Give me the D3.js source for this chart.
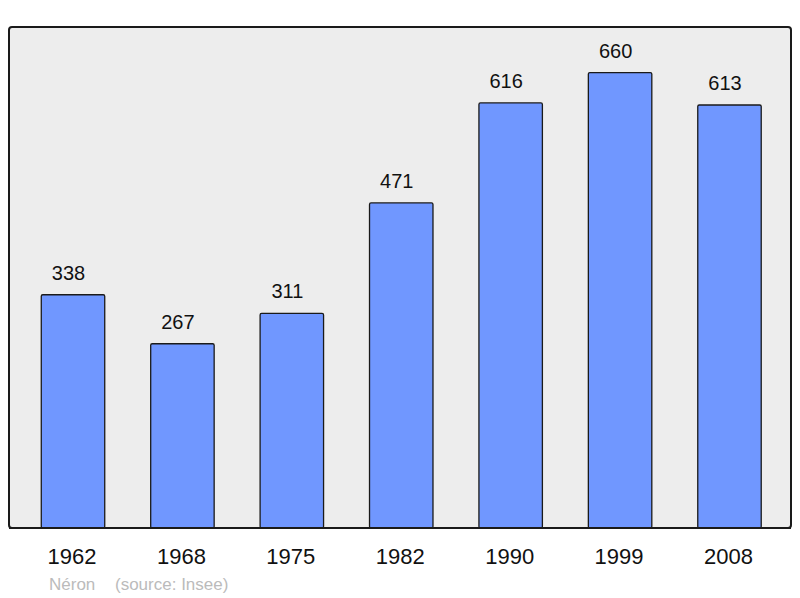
<!DOCTYPE html>
<html>
<head>
<meta charset="utf-8">
<script src="https://cdn.jsdelivr.net/npm/d3@7"></script>
<style>
  body { margin: 0; background: #fff; }
  text { font-family: "Liberation Sans", Arial, sans-serif; }
</style>
</head>
<body>
<svg id="chart" width="800" height="598"></svg>
<script>
// population data
const years = ["1962", "1968", "1975", "1982", "1990", "1999", "2008"];
const population = [338, 267, 311, 471, 616, 660, 613];
const commune = "Néron";
const source = "(source: Insee)";

const BOX = { left: 9, top: 27, right: 791, bottom: 528 };

const svg = d3.select("#chart");

// background frame
svg.append("rect")
  .attr("x", BOX.left)
  .attr("y", BOX.top)
  .attr("width", BOX.right - BOX.left)
  .attr("height", BOX.bottom - BOX.top)
  .attr("rx", 3)
  .attr("fill", "#ededed")
  .attr("stroke", "#1a1a1a")
  .attr("stroke-width", 2);

const x = d3.scaleBand()
  .domain(years)
  .range([18.3, 784.2])
  .paddingInner(0.42)
  .paddingOuter(0.21);

const y = d3.scaleLinear()
  .domain([0, d3.max(population) * 1.1])
  .range([BOX.bottom, BOX.top]);

const data = years.map((yr, i) => ({ year: yr, value: population[i] }));

svg.append("g")
  .selectAll("rect")
  .data(data)
  .enter()
  .append("rect")
  .attr("x", d => x(d.year))
  .attr("y", d => y(d.value))
  .attr("width", x.bandwidth())
  .attr("height", d => y(0) - y(d.value))
  .attr("rx", 1.5)
  .attr("fill", "#7097ff")
  .attr("stroke", "#1a1a1a")
  .attr("stroke-width", 1.3);

// value labels
svg.append("g")
  .selectAll("text")
  .data(data)
  .enter()
  .append("text")
  .attr("x", d => x(d.year) + x.bandwidth() / 2 - 4.5)
  .attr("y", d => y(d.value) - 15)
  .attr("text-anchor", "middle")
  .style("font-size", "20px")
  .style("fill", "#111")
  .text(d => d.value);

// redraw bottom edge of frame over bars
svg.append("line")
  .attr("x1", BOX.left)
  .attr("x2", BOX.right)
  .attr("y1", BOX.bottom)
  .attr("y2", BOX.bottom)
  .attr("stroke", "#1a1a1a")
  .attr("stroke-width", 2);

// year axis
const xAxis = d3.axisBottom(x).tickSize(0).tickPadding(0);
const gx = svg.append("g")
  .attr("transform", "translate(-1," + (BOX.bottom + 36) + ")")
  .call(xAxis);
gx.select(".domain").remove();
gx.selectAll("text")
  .attr("dy", 0)
  .style("font-size", "22px")
  .style("fill", "#111");

// footer
svg.append("text")
  .attr("x", 49)
  .attr("y", 590)
  .style("font-size", "17px")
  .style("fill", "#bbbbbb")
  .text(commune);

svg.append("text")
  .attr("x", 115)
  .attr("y", 590)
  .style("font-size", "17px")
  .style("fill", "#bbbbbb")
  .text(source);
</script>
</body>
</html>
